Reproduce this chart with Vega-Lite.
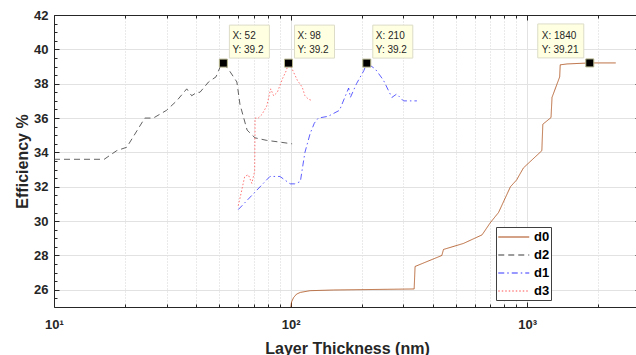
{
  "$schema": "https://vega.github.io/schema/vega-lite/v6.json",
  "width": 586,
  "height": 292,
  "autosize": {"type": "none"},
  "padding": {"left": 54, "top": 15, "right": 0, "bottom": 48},
  "background": "white",
  "config": {
    "font": "Liberation Sans",
    "view": {"stroke": null},
    "axis": {
      "domainColor": "#262626",
      "domainWidth": 1,
      "tickColor": "#262626",
      "labelColor": "#262626",
      "labelFont": "Liberation Sans",
      "labelFontWeight": "bold",
      "labelFontSize": 13,
      "titleFont": "Liberation Sans",
      "titleFontWeight": "bold",
      "titleFontSize": 16,
      "titleColor": "#262626",
      "labelOverlap": false,
      "labelFlush": false
    },
    "legend": {
      "orient": "none",
      "legendX": 442,
      "legendY": 212,
      "fillColor": "white",
      "strokeColor": "#404040",
      "padding": 1.5,
      "symbolType": "M-1,0H3",
      "symbolSize": 240,
      "symbolStrokeWidth": 1.2,
      "symbolFillColor": "transparent",
      "labelFont": "Liberation Sans",
      "labelFontWeight": "bold",
      "labelFontSize": 13,
      "labelColor": "#000000",
      "labelOffset": 19.5,
      "rowPadding": 2
    }
  },
  "datasets": {
    "curves": [
      {"s": "d2", "x": 10, "y": 33.6}, {"s": "d2", "x": 16.3, "y": 33.6}, {"s": "d2", "x": 18.4, "y": 34.1}, {"s": "d2", "x": 20.3, "y": 34.3}, {"s": "d2", "x": 24.2, "y": 36.0}, {"s": "d2", "x": 26.3, "y": 36.0}, {"s": "d2", "x": 29.9, "y": 36.45}, {"s": "d2", "x": 33, "y": 37.0}, {"s": "d2", "x": 36.4, "y": 37.7}, {"s": "d2", "x": 38.2, "y": 37.3}, {"s": "d2", "x": 40.2, "y": 37.5}, {"s": "d2", "x": 41.4, "y": 37.5}, {"s": "d2", "x": 45, "y": 38.1}, {"s": "d2", "x": 48.4, "y": 38.4}, {"s": "d2", "x": 50.3, "y": 38.95}, {"s": "d2", "x": 52, "y": 39.2}, {"s": "d2", "x": 55.5, "y": 38.7}, {"s": "d2", "x": 59.3, "y": 38.1}, {"s": "d2", "x": 61.1, "y": 36.8}, {"s": "d2", "x": 65.5, "y": 35.3}, {"s": "d2", "x": 70.7, "y": 34.85}, {"s": "d2", "x": 79.3, "y": 34.7}, {"s": "d2", "x": 90.2, "y": 34.6}, {"s": "d2", "x": 101.5, "y": 34.5},
      {"s": "d3", "x": 60.1, "y": 30.9}, {"s": "d3", "x": 61.5, "y": 31.5}, {"s": "d3", "x": 64, "y": 32.6}, {"s": "d3", "x": 66.3, "y": 32.7}, {"s": "d3", "x": 68.6, "y": 32.2}, {"s": "d3", "x": 70.5, "y": 32.9}, {"s": "d3", "x": 70.8, "y": 36.0}, {"s": "d3", "x": 73, "y": 36.0}, {"s": "d3", "x": 75.6, "y": 36.2}, {"s": "d3", "x": 79.3, "y": 36.7}, {"s": "d3", "x": 82.4, "y": 37.7}, {"s": "d3", "x": 84.8, "y": 37.3}, {"s": "d3", "x": 87.9, "y": 37.5}, {"s": "d3", "x": 92.5, "y": 38.3}, {"s": "d3", "x": 95.9, "y": 38.76}, {"s": "d3", "x": 98, "y": 39.2}, {"s": "d3", "x": 101.5, "y": 38.86}, {"s": "d3", "x": 106.8, "y": 38.2}, {"s": "d3", "x": 112, "y": 37.8}, {"s": "d3", "x": 115, "y": 37.3}, {"s": "d3", "x": 119, "y": 37.1}, {"s": "d3", "x": 124, "y": 37.0},
      {"s": "d1", "x": 60.1, "y": 30.67}, {"s": "d1", "x": 81.8, "y": 32.6}, {"s": "d1", "x": 90.2, "y": 32.6}, {"s": "d1", "x": 99.6, "y": 32.17}, {"s": "d1", "x": 104, "y": 32.17}, {"s": "d1", "x": 110, "y": 32.3}, {"s": "d1", "x": 112, "y": 33.0}, {"s": "d1", "x": 115, "y": 34.0}, {"s": "d1", "x": 121, "y": 35.1}, {"s": "d1", "x": 126, "y": 35.7}, {"s": "d1", "x": 131, "y": 36.0}, {"s": "d1", "x": 144, "y": 36.1}, {"s": "d1", "x": 161, "y": 36.45}, {"s": "d1", "x": 176, "y": 37.75}, {"s": "d1", "x": 179, "y": 37.2}, {"s": "d1", "x": 190, "y": 38.0}, {"s": "d1", "x": 204, "y": 38.76}, {"s": "d1", "x": 210, "y": 39.2}, {"s": "d1", "x": 228, "y": 38.86}, {"s": "d1", "x": 247, "y": 38.2}, {"s": "d1", "x": 268, "y": 37.2}, {"s": "d1", "x": 281, "y": 37.4}, {"s": "d1", "x": 300, "y": 37.0}, {"s": "d1", "x": 342, "y": 37.0},
      {"s": "d0", "x": 100, "y": 24.9}, {"s": "d0", "x": 101, "y": 25.3}, {"s": "d0", "x": 103, "y": 25.55}, {"s": "d0", "x": 106, "y": 25.75}, {"s": "d0", "x": 110, "y": 25.85}, {"s": "d0", "x": 121, "y": 25.95}, {"s": "d0", "x": 152, "y": 25.99}, {"s": "d0", "x": 333, "y": 26.05}, {"s": "d0", "x": 336, "y": 27.36}, {"s": "d0", "x": 436, "y": 28.0}, {"s": "d0", "x": 443, "y": 28.35}, {"s": "d0", "x": 538, "y": 28.7}, {"s": "d0", "x": 645, "y": 29.2}, {"s": "d0", "x": 698, "y": 29.9}, {"s": "d0", "x": 757, "y": 30.5}, {"s": "d0", "x": 850, "y": 32.0}, {"s": "d0", "x": 903, "y": 32.4}, {"s": "d0", "x": 965, "y": 33.1}, {"s": "d0", "x": 1154, "y": 34.1}, {"s": "d0", "x": 1165, "y": 35.64}, {"s": "d0", "x": 1262, "y": 36.03}, {"s": "d0", "x": 1274, "y": 37.2}, {"s": "d0", "x": 1373, "y": 38.4}, {"s": "d0", "x": 1380, "y": 39.1}, {"s": "d0", "x": 1475, "y": 39.15}, {"s": "d0", "x": 1840, "y": 39.21}, {"s": "d0", "x": 2370, "y": 39.21}
    ],
    "tips": [
      {"x": 52, "y": 39.2, "tx": "X: 52", "ty": "Y: 39.2", "side": "r"},
      {"x": 98, "y": 39.2, "tx": "X: 98", "ty": "Y: 39.2", "side": "r"},
      {"x": 210, "y": 39.2, "tx": "X: 210", "ty": "Y: 39.2", "side": "r"},
      {"x": 1840, "y": 39.21, "tx": "X: 1840", "ty": "Y: 39.21", "side": "l"}
    ]
  },
  "resolve": {"axis": {"x": "independent", "y": "independent"}},
  "layer": [
    {
      "data": {"name": "curves"},
      "mark": {"type": "line", "strokeWidth": 0.8, "clip": true},
      "encoding": {
        "x": {
          "field": "x", "type": "quantitative",
          "scale": {"type": "log", "domain": [10, 3000], "nice": false},
          "axis": {
            "orient": "bottom",
            "title": "Layer Thickness (nm)",
            "titleY": 46,
            "titleBaseline": "alphabetic",
            "values": [10, 20, 30, 40, 50, 60, 70, 80, 90, 100, 200, 300, 400, 500, 600, 700, 800, 900, 1000, 2000, 3000],
            "labelExpr": "datum.value == 10 ? '10¹' : datum.value == 100 ? '10²' : datum.value == 1000 ? '10³' : ''",
            "labelPadding": 16,
            "tickSize": {"condition": {"test": "datum.value == 10 || datum.value == 100 || datum.value == 1000", "value": -5}, "value": -3},
            "grid": true,
            "gridColor": {"condition": {"test": "datum.value == 10 || datum.value == 100 || datum.value == 1000", "value": "#e2e2e2"}, "value": "#d4d4d4"},
            "gridDash": {"condition": {"test": "datum.value == 10 || datum.value == 100 || datum.value == 1000", "value": []}, "value": [1, 2]}
          }
        },
        "y": {
          "field": "y", "type": "quantitative",
          "scale": {"domain": [25, 42], "nice": false, "zero": false},
          "axis": {
            "orient": "left",
            "title": "Efficiency %",
            "titleAngle": -90,
            "titleX": -27,
            "titleY": 146,
            "titleAlign": "center",
            "titleBaseline": "alphabetic",
            "values": [25.5, 26, 26.5, 27, 27.5, 28, 28.5, 29, 29.5, 30, 30.5, 31, 31.5, 32, 32.5, 33, 33.5, 34, 34.5, 35, 35.5, 36, 36.5, 37, 37.5, 38, 38.5, 39, 39.5, 40, 40.5, 41, 41.5, 42],
            "labelExpr": "datum.value % 2 == 0 ? format(datum.value, 'd') : ''",
            "labelPadding": 11,
            "tickSize": {"condition": {"test": "datum.value % 2 == 0", "value": -5}, "value": -3},
            "grid": true,
            "gridColor": "#e2e2e2",
            "gridOpacity": {"condition": {"test": "datum.value % 2 == 0", "value": 1}, "value": 0}
          }
        },
        "color": {
          "field": "s", "type": "nominal",
          "scale": {"domain": ["d0", "d2", "d1", "d3"], "range": ["#a8470f", "#3a3a3a", "#3535ff", "#ff5050"]},
          "legend": {"title": null}
        },
        "strokeDash": {
          "field": "s", "type": "nominal",
          "scale": {"domain": ["d0", "d2", "d1", "d3"], "range": [[1, 0], [6, 4], [6, 3, 1.5, 3], [1.5, 2]]},
          "legend": {"title": null}
        }
      }
    },
    {
      "data": {"name": "tips"},
      "mark": {"type": "point", "shape": "square", "filled": true, "size": 64, "fill": "#000000", "stroke": "#b9b88f", "strokeWidth": 1, "opacity": 1},
      "encoding": {
        "x": {
          "field": "x", "type": "quantitative",
          "axis": {
            "orient": "top", "title": null, "labels": false, "grid": false,
            "values": [10, 20, 30, 40, 50, 60, 70, 80, 90, 100, 200, 300, 400, 500, 600, 700, 800, 900, 1000, 2000, 3000],
            "tickSize": {"condition": {"test": "datum.value == 10 || datum.value == 100 || datum.value == 1000", "value": -5}, "value": -3}
          }
        },
        "y": {
          "field": "y", "type": "quantitative",
          "axis": {
            "orient": "right", "title": null, "labels": false, "grid": false,
            "values": [25.5, 26, 26.5, 27, 27.5, 28, 28.5, 29, 29.5, 30, 30.5, 31, 31.5, 32, 32.5, 33, 33.5, 34, 34.5, 35, 35.5, 36, 36.5, 37, 37.5, 38, 38.5, 39, 39.5, 40, 40.5, 41, 41.5, 42],
            "tickSize": {"condition": {"test": "datum.value % 2 == 0", "value": -5}, "value": -3}
          }
        }
      }
    },
    {
      "data": {"name": "tips"},
      "transform": [{"filter": "datum.side == 'r'"}],
      "mark": {"type": "point", "shape": "M-1,-0.825H1V0.825H-1Z", "size": 1600, "filled": true, "fill": "#ffffe1", "stroke": "#dcdcc8", "strokeWidth": 1, "opacity": 1, "xOffset": 26, "yOffset": -21.5},
      "encoding": {
        "x": {"field": "x", "type": "quantitative", "axis": null},
        "y": {"field": "y", "type": "quantitative", "axis": null}
      }
    },
    {
      "data": {"name": "tips"},
      "transform": [{"filter": "datum.side == 'l'"}],
      "mark": {"type": "point", "shape": "M-1,-0.739H1V0.739H-1Z", "size": 2116, "filled": true, "fill": "#ffffe1", "stroke": "#dcdcc8", "strokeWidth": 1, "opacity": 1, "xOffset": -29, "yOffset": -22},
      "encoding": {
        "x": {"field": "x", "type": "quantitative", "axis": null},
        "y": {"field": "y", "type": "quantitative", "axis": null}
      }
    },
    {
      "data": {"name": "tips"},
      "transform": [{"filter": "datum.side == 'r'"}],
      "mark": {"type": "text", "align": "left", "baseline": "alphabetic", "dx": 9, "dy": -24, "fontSize": 10, "color": "#262626"},
      "encoding": {
        "x": {"field": "x", "type": "quantitative", "axis": null},
        "y": {"field": "y", "type": "quantitative", "axis": null},
        "text": {"field": "tx"}
      }
    },
    {
      "data": {"name": "tips"},
      "transform": [{"filter": "datum.side == 'r'"}],
      "mark": {"type": "text", "align": "left", "baseline": "alphabetic", "dx": 9, "dy": -10, "fontSize": 10, "color": "#262626"},
      "encoding": {
        "x": {"field": "x", "type": "quantitative", "axis": null},
        "y": {"field": "y", "type": "quantitative", "axis": null},
        "text": {"field": "ty"}
      }
    },
    {
      "data": {"name": "tips"},
      "transform": [{"filter": "datum.side == 'l'"}],
      "mark": {"type": "text", "align": "left", "baseline": "alphabetic", "dx": -48, "dy": -24, "fontSize": 10, "color": "#262626"},
      "encoding": {
        "x": {"field": "x", "type": "quantitative", "axis": null},
        "y": {"field": "y", "type": "quantitative", "axis": null},
        "text": {"field": "tx"}
      }
    },
    {
      "data": {"name": "tips"},
      "transform": [{"filter": "datum.side == 'l'"}],
      "mark": {"type": "text", "align": "left", "baseline": "alphabetic", "dx": -48, "dy": -10, "fontSize": 10, "color": "#262626"},
      "encoding": {
        "x": {"field": "x", "type": "quantitative", "axis": null},
        "y": {"field": "y", "type": "quantitative", "axis": null},
        "text": {"field": "ty"}
      }
    }
  ]
}
